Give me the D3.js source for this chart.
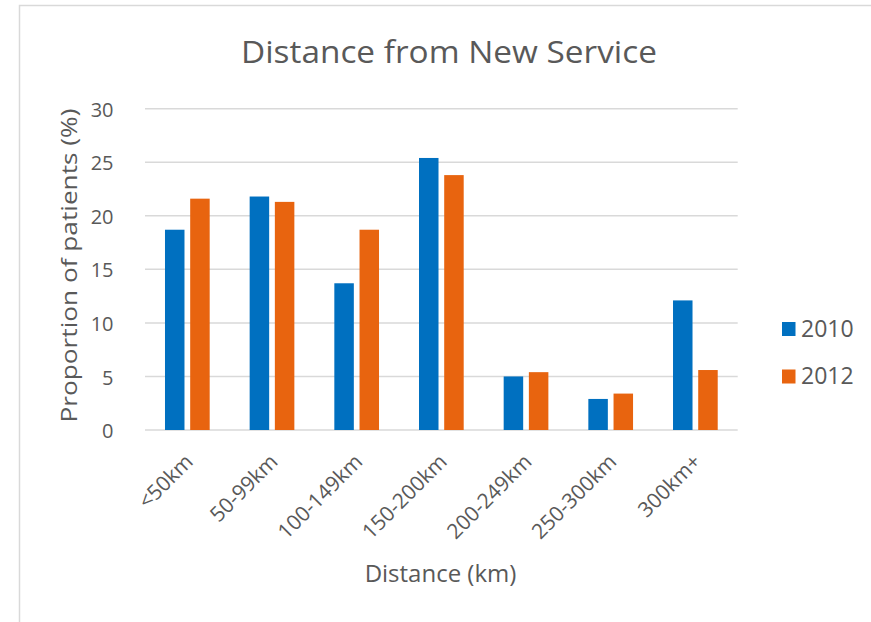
<!DOCTYPE html>
<html>
<head>
<meta charset="utf-8">
<script src="https://cdn.jsdelivr.net/npm/d3@7"></script>
<style>
  html, body { margin: 0; padding: 0; background: #ffffff; }
  svg { display: block; font-family: "Open Sans", "Noto Sans", sans-serif; }
</style>
</head>
<body>
<svg id="chart" width="871" height="622"></svg>
<script>
// Distance bands and share of patients (%) per year
const categories = ["<50km", "50-99km", "100-149km", "150-200km", "200-249km", "250-300km", "300km+"];
const seriesNames = ["2010", "2012"];
const values2010 = [18.7, 21.8, 13.7, 25.4, 5.0, 2.9, 12.1];
const values2012 = [21.6, 21.3, 18.7, 23.8, 5.4, 3.4, 5.6];
const yTicks = [0, 5, 10, 15, 20, 25, 30];
const colors = ["#0070c0", "#e8640f"];

const seriesValues = [values2010, values2012];
const rows = categories.map((c, i) => ({
  category: c,
  bars: seriesNames.map((s, j) => ({ series: s, value: seriesValues[j][i] }))
}));

const svg = d3.select("#chart");
const textColor = "#595959";
const gridColor = "#d9d9d9";

// chart frame
svg.append("rect")
  .attr("x", 19.5).attr("y", 5.5)
  .attr("width", 870).attr("height", 620)
  .attr("fill", "#ffffff")
  .attr("stroke", "#d9d9d9").attr("stroke-width", 1.5);

const plot = { left: 145, right: 737.7, top: 108.7, bottom: 430 };

const x0 = d3.scaleBand()
  .domain(categories)
  .range([plot.left, plot.right])
  .padding(0);

const groupWidth = 44.7;
const x1 = d3.scaleBand()
  .domain(seriesNames)
  .range([(x0.bandwidth() - groupWidth) / 2, (x0.bandwidth() + groupWidth) / 2])
  .paddingInner(0.226);

const y = d3.scaleLinear().domain([0, 30]).range([plot.bottom, plot.top]);
const color = d3.scaleOrdinal().domain(seriesNames).range(colors);

// gridlines
svg.append("g")
  .selectAll("line")
  .data(yTicks)
  .join("line")
  .attr("x1", plot.left).attr("x2", plot.right)
  .attr("y1", d => y(d)).attr("y2", d => y(d))
  .attr("stroke", gridColor).attr("stroke-width", 1.5);

// y axis labels
const yAxis = d3.axisLeft(y).tickValues(yTicks).tickSize(0).tickPadding(0);
const yg = svg.append("g")
  .attr("transform", `translate(${113.5},0)`)
  .attr("font-size", 20)
  .call(yAxis);
yg.attr("font-size", 20).attr("font-family", "Open Sans");
yg.select(".domain").remove();
yg.selectAll("text")
  .attr("fill", textColor)
  .attr("dy", "0.38em");

// bars
const groups = svg.append("g")
  .selectAll("g")
  .data(rows)
  .join("g")
  .attr("transform", d => `translate(${x0(d.category)},0)`);

groups.selectAll("rect")
  .data(d => d.bars)
  .join("rect")
  .attr("x", d => x1(d.series))
  .attr("width", x1.bandwidth())
  .attr("y", d => y(d.value))
  .attr("height", d => y(0) - y(d.value))
  .attr("fill", d => color(d.series));

// x axis category labels
const xAxis = d3.axisBottom(x0).tickSize(0).tickPadding(0);
const xg = svg.append("g")
  .attr("transform", `translate(0,${plot.bottom})`)
  .call(xAxis);
xg.attr("font-size", 21).attr("font-family", "Open Sans");
xg.select(".domain").remove();
xg.selectAll(".tick text")
  .attr("fill", textColor)
  .attr("text-anchor", "end")
  .attr("dy", 0)
  .attr("transform", "translate(7,33) rotate(-45)");

// chart title
svg.append("text")
  .attr("x", 449).attr("y", 63.3)
  .attr("text-anchor", "middle")
  .attr("fill", textColor)
  .attr("font-size", 31)
  .attr("textLength", 416)
  .attr("lengthAdjust", "spacingAndGlyphs")
  .text("Distance from New Service");

// axis titles
svg.append("text")
  .attr("x", 440.5).attr("y", 582.3)
  .attr("text-anchor", "middle")
  .attr("fill", textColor)
  .attr("font-size", 24)
  .text("Distance (km)");

svg.append("text")
  .attr("transform", "translate(77,265.5) rotate(-90)")
  .attr("text-anchor", "middle")
  .attr("fill", textColor)
  .attr("font-size", 22)
  .attr("textLength", 314)
  .attr("lengthAdjust", "spacingAndGlyphs")
  .text("Proportion of patients (%)");

// legend
const legend = svg.append("g")
  .selectAll("g")
  .data(seriesNames)
  .join("g")
  .attr("transform", (d, i) => `translate(782,${322 + i * 47.5})`);

legend.append("rect")
  .attr("width", 13.5).attr("height", 14)
  .attr("fill", d => color(d));

legend.append("text")
  .attr("x", 19).attr("y", 14.5)
  .attr("fill", textColor)
  .attr("font-size", 23)
  .text(d => d);
</script>
</body>
</html>
